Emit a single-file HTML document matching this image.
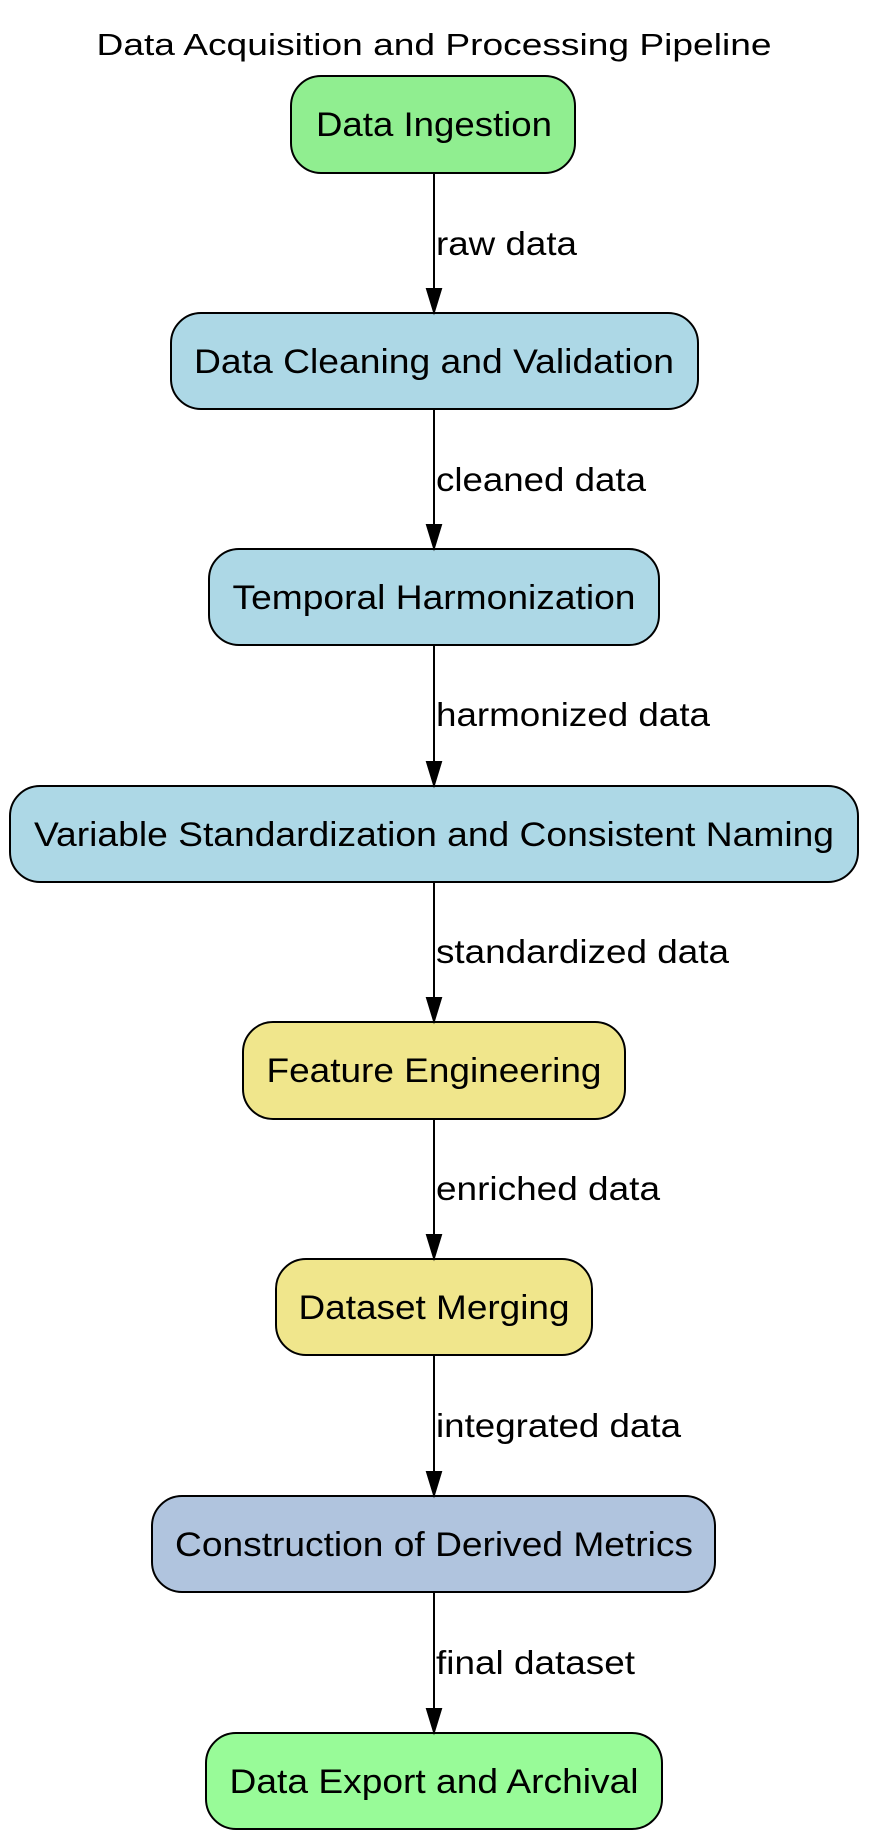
<!DOCTYPE html>
<html><head><meta charset="utf-8"><style>
html,body{margin:0;padding:0;background:#fff;}
svg{display:block;}
text{font-family:"Liberation Sans",Arial,sans-serif;fill:#000;}
</style></head><body>
<svg width="870" height="1840" viewBox="0 0 870 1840" xmlns="http://www.w3.org/2000/svg">
<text x="434" y="55" text-anchor="middle" font-size="31" textLength="675" lengthAdjust="spacingAndGlyphs">Data Acquisition and Processing Pipeline</text>
<g stroke="#000" stroke-width="2">
<rect x="291" y="76" width="284" height="97" rx="30" fill="#90EE90"/>
<rect x="171" y="313" width="527" height="96" rx="30" fill="#ADD8E6"/>
<rect x="209" y="549" width="450" height="96" rx="30" fill="#ADD8E6"/>
<rect x="10" y="786" width="848" height="96" rx="30" fill="#ADD8E6"/>
<rect x="243" y="1022" width="382" height="97" rx="30" fill="#F0E68C"/>
<rect x="276" y="1259" width="316" height="96" rx="30" fill="#F0E68C"/>
<rect x="152" y="1496" width="563" height="96" rx="30" fill="#B0C4DE"/>
<rect x="206" y="1733" width="456" height="96" rx="30" fill="#98FB98"/>
<line x1="434" y1="173" x2="434" y2="290"/>
<line x1="434" y1="409" x2="434" y2="526"/>
<line x1="434" y1="645" x2="434" y2="763"/>
<line x1="434" y1="882" x2="434" y2="999"/>
<line x1="434" y1="1119" x2="434" y2="1236"/>
<line x1="434" y1="1355" x2="434" y2="1473"/>
<line x1="434" y1="1592" x2="434" y2="1710"/>
</g>
<g fill="#000" stroke="#000" stroke-width="2">
<polygon points="427,289 441,289 434,312"/>
<polygon points="427,525 441,525 434,548"/>
<polygon points="427,762 441,762 434,785"/>
<polygon points="427,998 441,998 434,1021"/>
<polygon points="427,1235 441,1235 434,1258"/>
<polygon points="427,1472 441,1472 434,1495"/>
<polygon points="427,1709 441,1709 434,1732"/>
</g>
<g font-size="34" text-anchor="middle">
<text x="434" y="136" textLength="236" lengthAdjust="spacingAndGlyphs">Data Ingestion</text>
<text x="434" y="373" textLength="480" lengthAdjust="spacingAndGlyphs">Data Cleaning and Validation</text>
<text x="434" y="609" textLength="403" lengthAdjust="spacingAndGlyphs">Temporal Harmonization</text>
<text x="434" y="846" textLength="800" lengthAdjust="spacingAndGlyphs">Variable Standardization and Consistent Naming</text>
<text x="434" y="1082" textLength="335" lengthAdjust="spacingAndGlyphs">Feature Engineering</text>
<text x="434" y="1319" textLength="271" lengthAdjust="spacingAndGlyphs">Dataset Merging</text>
<text x="434" y="1556" textLength="518" lengthAdjust="spacingAndGlyphs">Construction of Derived Metrics</text>
<text x="434" y="1793" textLength="409" lengthAdjust="spacingAndGlyphs">Data Export and Archival</text>
</g>
<g font-size="33">
<text x="436" y="255" textLength="141" lengthAdjust="spacingAndGlyphs">raw data</text>
<text x="436" y="491" textLength="210" lengthAdjust="spacingAndGlyphs">cleaned data</text>
<text x="436" y="726" textLength="274" lengthAdjust="spacingAndGlyphs">harmonized data</text>
<text x="436" y="963" textLength="293" lengthAdjust="spacingAndGlyphs">standardized data</text>
<text x="436" y="1200" textLength="224" lengthAdjust="spacingAndGlyphs">enriched data</text>
<text x="436" y="1437" textLength="245" lengthAdjust="spacingAndGlyphs">integrated data</text>
<text x="436" y="1674" textLength="199" lengthAdjust="spacingAndGlyphs">final dataset</text>
</g>
</svg>
</body></html>
